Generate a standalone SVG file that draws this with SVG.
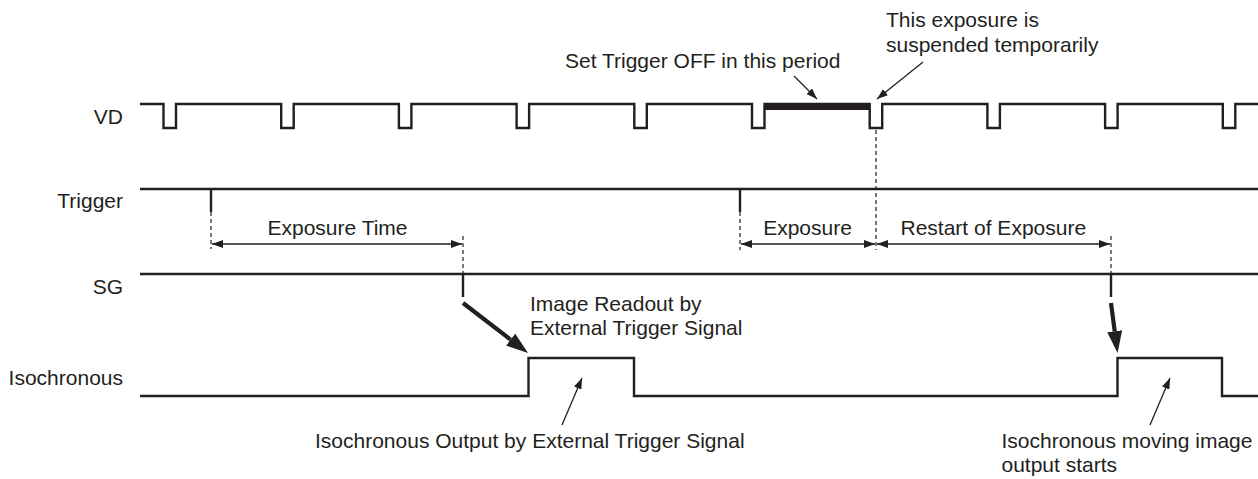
<svg xmlns="http://www.w3.org/2000/svg" width="1258" height="479" viewBox="0 0 1258 479">
<style>
  .lbl { font-family: "Liberation Sans", Arial, sans-serif; font-size: 21px; fill: #231f20; }
  .sig { fill: none; stroke: #231f20; stroke-width: 2.4; stroke-linejoin: miter; }
  .dash { fill: none; stroke: #231f20; stroke-width: 1.2; stroke-dasharray: 4 3; }
  .dim { fill: none; stroke: #231f20; stroke-width: 1.3; marker-start: url(#ah); marker-end: url(#ah); }
  .thin { fill: none; stroke: #231f20; stroke-width: 1.3; marker-end: url(#ah); }
  .thick { fill: none; stroke: #231f20; stroke-width: 4.2; marker-end: url(#bh); }
</style>
<defs>
  <marker id="ah" markerUnits="userSpaceOnUse" viewBox="0 0 11 8" refX="11" refY="4" markerWidth="11" markerHeight="8" orient="auto-start-reverse">
    <path d="M0,0 L11,4 L0,8 Z" fill="#231f20"/>
  </marker>
  <marker id="bh" markerUnits="userSpaceOnUse" viewBox="0 0 22 15" refX="0" refY="7.5" markerWidth="22" markerHeight="15" orient="auto">
    <path d="M0,0 L22,7.5 L0,15 Z" fill="#231f20"/>
  </marker>
</defs>
<rect width="1258" height="479" fill="#ffffff"/>

<g id="vd">
  <text class="lbl" x="123" y="124" text-anchor="end">VD</text>
  <path class="sig" d="M140,104 H163.5 V128 H176 V104 H281.2 V128 H293.7 V104 H398.9 V128 H411.4 V104 H516.6 V128 H529.1 V104 H634.3 V128 H646.8 V104 H752 V128 H764.5 V104 H869.7 V128 H882.2 V104 H987.4 V128 H999.9 V104 H1105.1 V128 H1117.6 V104 H1222.8 V128 H1235.3 V104 H1258"/>
  <rect x="764" y="103" width="106" height="7" fill="#231f20"/>
</g>

<g id="trigger">
  <text class="lbl" x="123" y="208" text-anchor="end">Trigger</text>
  <path class="sig" d="M140,189 H1258 M211,189 V212 M740,189 V212"/>
</g>

<g id="sg">
  <text class="lbl" x="123" y="294" text-anchor="end">SG</text>
  <path class="sig" d="M140,274 H1258 M463,274 V297 M1111,274 V297"/>
</g>

<g id="isochronous">
  <text class="lbl" x="123" y="385" text-anchor="end">Isochronous</text>
  <path class="sig" d="M140,396 H528.5 V358 H634 V396 H1117.5 V358 H1222 V396 H1258"/>
</g>

<g id="annotations">
  <text class="lbl" x="565" y="68">Set Trigger OFF in this period</text>
  <text class="lbl" x="886" y="27">This exposure is</text>
  <text class="lbl" x="886" y="52">suspended temporarily</text>
  <text class="lbl" x="337.5" y="235" text-anchor="middle">Exposure Time</text>
  <text class="lbl" x="807.5" y="235" text-anchor="middle">Exposure</text>
  <text class="lbl" x="993.3" y="235" text-anchor="middle">Restart of Exposure</text>
  <text class="lbl" x="530" y="311">Image Readout by</text>
  <text class="lbl" x="530" y="335">External Trigger Signal</text>
  <text class="lbl" x="315" y="448">Isochronous Output by External Trigger Signal</text>
  <text class="lbl" x="1001.5" y="448">Isochronous moving image</text>
  <text class="lbl" x="1001.5" y="472">output starts</text>
</g>

<g id="connectors">
  <path class="dash" d="M211,212 V249"/>
  <path class="dash" d="M463,236 V274"/>
  <path class="dash" d="M740,212 V250"/>
  <path class="dash" d="M876,130 V250"/>
  <path class="dash" d="M1111,236 V274"/>
  <path class="dim" d="M212,244 H462"/>
  <path class="dim" d="M741,244 H875"/>
  <path class="dim" d="M877,244 H1110"/>
  <path class="thin" d="M794,76 L817,99"/>
  <path class="thin" d="M923,62 L877,99"/>
  <path class="thin" d="M562,425 L582,378"/>
  <path class="thin" d="M1150,425 L1170,378"/>
  <path class="thick" d="M463,303 L510.6,339.6"/>
  <path class="thick" d="M1111,303 L1114.7,331.2"/>
</g>
</svg>
